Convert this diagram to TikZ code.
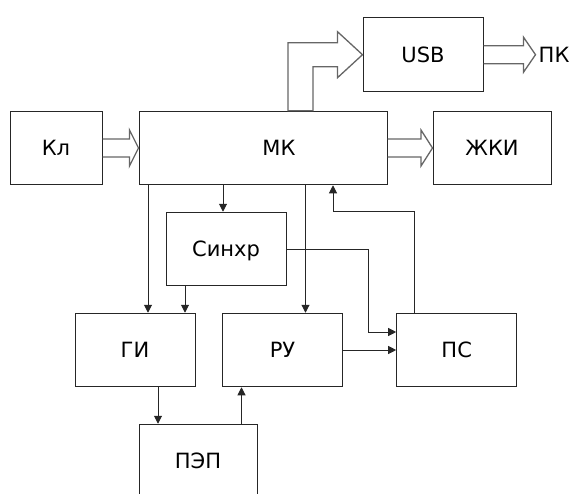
\documentclass[tikz,border=0pt]{standalone}
\usepackage{fontspec}
\setmainfont{DejaVu Sans}
\usetikzlibrary{arrows.meta,positioning,calc}

% wide hollow arrow: from, to, head length, head half width
\newcommand\fatarrow[4]{%
  \draw[fat] ([yshift=9pt]#1.east) -- ([xshift=-#3,yshift=9pt]#2.west)
    -- ([xshift=-#3,yshift=#4]#2.west) -- (#2.west)
    -- ([xshift=-#3,yshift=-#4]#2.west) -- ([xshift=-#3,yshift=-9pt]#2.west)
    -- ([yshift=-9pt]#1.east);}

\begin{document}
\begin{tikzpicture}[
  x=1pt, y=-1pt,
  font=\fontsize{21}{25}\selectfont,
  blk/.style={draw=black!85, line width=1pt, minimum width=120pt, minimum height=73.5pt,
    inner sep=0pt, text height=15pt, text depth=0pt},
  arr/.style={draw=black!85, line width=1pt, -{Triangle[length=8pt,width=8pt]}},
  fat/.style={draw=black!60, line width=1.3pt}
]
\useasboundingbox (0,0) rectangle (572,493);
\clip (0,0) rectangle (572,493);

\node[blk] (usb) at (423,54.7) {USB};
\node[right=52pt of usb, inner sep=3pt] (pk) {ПК};

\node[blk, minimum width=92pt] (kl) at (56,148) {Кл};
\node[blk, minimum width=248pt,
  label={[xshift=16pt, text height=15pt, text depth=0pt]center:МК}] (mk) at (263,148) {};
\node[blk, minimum width=118pt] (lcd) at (492,148) {ЖКИ};

\node[blk] (sync) at (226,249) {Синхр};

\node[blk] (gi) at (135,350) {ГИ};
\node[blk] (ru) at (282.5,350) {РУ};
\node[blk] (ps) at (456.7,350) {ПС};

\node[blk, minimum width=118pt] (pep) at (198,461) {ПЭП};

% buses
\fatarrow{kl}{mk}{9pt}{18pt}
\fatarrow{mk}{lcd}{11.5pt}{18pt}
\fatarrow{usb}{pk}{12pt}{17.5pt}
\draw[fat] ([xshift=25pt]mk.north) |- ([xshift=-25pt,yshift=12pt]usb.west)
  -- ([xshift=-25pt,yshift=23pt]usb.west) -- (usb.west)
  -- ([xshift=-25pt,yshift=-23pt]usb.west) -- ([xshift=-25pt,yshift=-12pt]usb.west)
  -| ([xshift=50pt]mk.north) -- cycle;

% signals
\draw[arr] ($(gi.north |- mk.south)+(13,0)$) -- ([xshift=13pt]gi.north);
\draw[arr] ($(sync.north |- mk.south)+(-3,0)$) -- ([xshift=-3pt]sync.north);
\draw[arr] ([xshift=-41pt]sync.south) -- ($(sync.south |- gi.north)+(-41,0)$);
\draw[arr] ($(ru.north |- mk.south)+(23,0)$) -- ([xshift=23pt]ru.north);
\draw[arr] ([xshift=-42pt]ps.north) |- ($(mk.south |- sync.north)+(70,0)$) -- ([xshift=70pt]mk.south);
\draw[arr] (sync.east) -| ([xshift=-28pt,yshift=18pt]ps.west) -- ([yshift=18pt]ps.west);
\draw[arr] (ru) -- (ps);
\draw[arr] ([xshift=23pt]gi.south) -- ($(gi.south |- pep.north)+(23,0)$);
\draw[arr] ($(ru.south |- pep.north)+(-41,0)$) -- ([xshift=-41pt]ru.south);

\end{tikzpicture}
\end{document}
